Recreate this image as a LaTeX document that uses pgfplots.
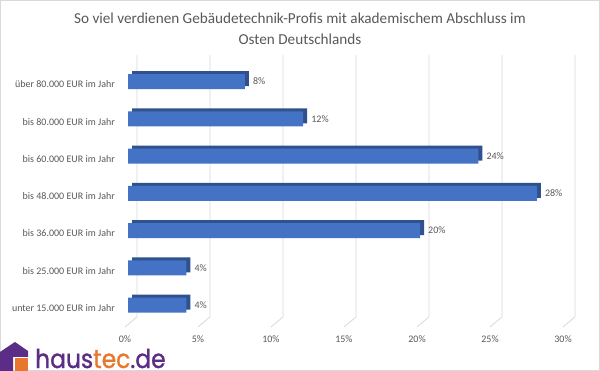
\documentclass[border=0pt]{standalone}
\usepackage{pgfplots}
\pgfplotsset{compat=1.18}
\usepackage{fontspec}
\setmainfont{Carlito}
\newfontfamily\logofont{Poppins}[FakeBold=1.2]
\definecolor{barfront}{HTML}{4472C4}
\definecolor{barside}{HTML}{2F528F}
\definecolor{txt}{HTML}{595959}
\definecolor{gridc}{HTML}{D9D9D9}
\definecolor{hpurple}{HTML}{5B2D86}
\definecolor{horange}{HTML}{E8772E}
\begin{document}
\begin{tikzpicture}
\useasboundingbox (0,0) rectangle (600bp,371bp);
\fill[white] (0,0) rectangle (600bp,371bp);
\draw[gridc, line width=0.8bp] (0.5bp,0.5bp) rectangle (599.5bp,370.5bp);
\node[align=center, text=txt, font=\fontsize{15.2bp}{21bp}\selectfont] at (300bp,342.5bp) {So viel verdienen Gebäudetechnik-Profis mit akademischem Abschluss im\\Osten Deutschlands};
\begin{axis}[
  at={(128bp,43.65bp)}, anchor=south west,
  scale only axis, width=438bp, height=268.2bp,
  xmin=0, xmax=30, ymin=-0.6, ymax=6.6,
  axis line style={draw=none}, major tick length=0pt,
  xtick={0,5,...,30}, xticklabels={0\%,5\%,10\%,15\%,20\%,25\%,30\%},
  ytick={0,...,6},
  yticklabels={unter 15.000 EUR im Jahr, bis 25.000 EUR im Jahr, bis 36.000 EUR im Jahr, bis 48.000 EUR im Jahr, bis 60.000 EUR im Jahr, bis 80.000 EUR im Jahr, über 80.000 EUR im Jahr},
  tick label style={font=\fontsize{10bp}{12bp}\selectfont, text=txt, inner sep=0pt},
  xticklabel style={anchor=center, yshift=-11.6bp, xshift=-3bp},
  yticklabel style={anchor=east, xshift=-13bp, yshift=-3bp},
  clip=false,
  /pgf/number format/assume math mode=true,
]
\pgfplotsinvokeforeach{0,5,10,15,20,25,30}{
  \draw[gridc, line width=0.8bp] ([xshift=9bp]axis cs:#1,6.71) -- ([xshift=9bp]axis cs:#1,-0.32) -- ([xshift=-3bp]axis cs:#1,-0.59);
}
\addplot[xbar, bar width=15bp, fill=barside, draw=none, xshift=4bp, yshift=3bp]
  coordinates {(4,0) (4,1) (20,2) (28,3) (24,4) (12,5) (8,6)};
\addplot[xbar, bar width=15bp, fill=barfront, draw=none, point meta=x,
  nodes near coords={\pgfmathprintnumber{\pgfplotspointmeta}\%},
  nodes near coords style={anchor=west, xshift=8bp, inner sep=0pt, font=\fontsize{10bp}{12bp}\selectfont, text=txt}]
  coordinates {(4,0) (4,1) (20,2) (28,3) (24,4) (12,5) (8,6)};
\end{axis}
\fill[hpurple] (0,0) -- (0,19bp) -- (15bp,29bp) -- (28bp,20bp) -- (28bp,14bp) -- (13bp,14bp) -- (13bp,0) -- cycle;
\fill[horange] (14.5bp,0) rectangle (27.5bp,13bp);
\node[anchor=base west, inner sep=0pt, font=\logofont\fontsize{26bp}{26bp}\selectfont, xscale=0.9] at (35bp,3bp) {\textcolor{hpurple}{haus}\textcolor{horange}{tec}\textcolor{hpurple}{.de}};
\end{tikzpicture}
\end{document}
